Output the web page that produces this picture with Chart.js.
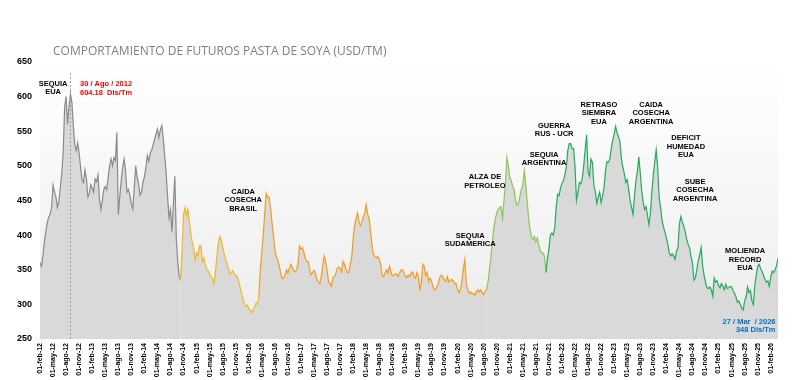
<!DOCTYPE html>
<html lang="es">
<head>
<meta charset="utf-8">
<title>Futuros pasta de soya</title>
<script src="https://cdn.jsdelivr.net/npm/chart.js@4.4.1/dist/chart.umd.min.js"></script>
<style>
  html, body { margin: 0; padding: 0; background: #fff; }
  #contenedor { width: 800px; height: 380px; }
</style>
</head>
<body>
<div id="contenedor"><canvas id="grafico"></canvas></div>
<script>
// precio (USD/TM), un dato cada ~10 dias: dias 1, 11 y 21 de cada mes, desde 01-feb-2012
const precios2012 = [360, 355, 370, 390, 405, 418, 426, 430, 440, 472, 462, 455, 440, 448, 468, 488, 520, 585, 600, 560, 585, 604, 592, 558, 530, 522, 533, 518, 498, 480, 476, 494, 482];
const precios2013 = [455, 460, 473, 468, 462, 481, 477, 487, 452, 437, 450, 466, 470, 466, 483, 500, 510, 500, 512, 508, 548, 430, 455, 478, 498, 510, 493, 462, 466, 458, 445, 438, 468, 500, 484, 474];
const precios2014 = [458, 462, 476, 484, 497, 515, 507, 518, 523, 530, 538, 546, 553, 541, 552, 558, 540, 515, 490, 455, 425, 437, 405, 445, 485, 395, 362, 340, 335, 378, 430, 440, 428, 437, 420, 402];
const precios2015 = [390, 381, 364, 374, 370, 385, 385, 362, 367, 357, 351, 348, 344, 340, 336, 330, 347, 369, 388, 398, 393, 383, 373, 366, 358, 352, 343, 346, 349, 344, 342, 340, 334, 325, 316, 308];
const precios2016 = [301, 297, 299, 294, 292, 288, 291, 296, 302, 300, 314, 352, 376, 400, 432, 460, 455, 455, 440, 418, 400, 379, 369, 364, 356, 346, 337, 338, 342, 350, 345, 352, 358, 354, 348, 347];
const precios2017 = [350, 360, 384, 380, 382, 375, 366, 362, 362, 350, 343, 346, 349, 344, 336, 332, 330, 340, 356, 370, 362, 350, 333, 330, 326, 338, 340, 344, 352, 354, 352, 347, 362, 358, 351, 346];
const precios2018 = [346, 358, 369, 395, 414, 424, 432, 420, 414, 418, 427, 431, 444, 430, 424, 405, 385, 372, 369, 367, 369, 365, 358, 342, 340, 345, 350, 345, 355, 348, 341, 342, 344, 344, 340, 345];
const precios2019 = [350, 350, 346, 340, 339, 342, 340, 345, 347, 340, 338, 346, 340, 322, 330, 358, 355, 342, 346, 333, 338, 334, 326, 321, 322, 326, 333, 340, 342, 339, 335, 333, 340, 332, 334, 336];
const precios2020 = [334, 330, 330, 322, 317, 322, 334, 352, 365, 330, 321, 316, 318, 315, 316, 313, 318, 321, 318, 321, 317, 314, 318, 322, 332, 350, 368, 390, 410, 423, 432, 437, 440, 441, 424, 450];
const precios2021 = [475, 512, 500, 483, 479, 470, 466, 450, 443, 446, 456, 466, 472, 493, 474, 448, 425, 408, 397, 394, 398, 390, 396, 386, 378, 374, 374, 369, 346, 366, 380, 400, 403, 400, 410, 440];
const precios2022 = [459, 457, 468, 475, 478, 487, 498, 522, 532, 532, 525, 525, 500, 450, 462, 476, 474, 482, 500, 523, 545, 492, 485, 510, 505, 472, 463, 446, 455, 462, 447, 456, 468, 492, 506, 505];
const precios2023 = [510, 525, 537, 546, 557, 548, 542, 535, 510, 498, 489, 476, 480, 466, 450, 440, 430, 456, 478, 492, 513, 490, 464, 448, 437, 441, 428, 415, 432, 462, 487, 506, 523, 498, 455, 440];
const precios2024 = [422, 412, 405, 396, 387, 374, 370, 373, 370, 365, 377, 382, 416, 427, 419, 413, 405, 394, 387, 382, 369, 360, 335, 338, 350, 363, 372, 382, 356, 342, 332, 324, 323, 325, 321, 312];
const precios2025 = [338, 332, 334, 327, 324, 330, 326, 321, 329, 323, 324, 326, 325, 320, 316, 311, 303, 305, 300, 294, 292, 305, 311, 325, 317, 320, 305, 300, 327, 342, 355, 358, 352, 347, 342, 336];
const precios2026 = [332, 334, 326, 339, 348, 346, 350, 356, 366];

const meses = ['ene', 'feb', 'mar', 'abr', 'may', 'jun', 'jul', 'ago', 'sep', 'oct', 'nov', 'dic'];
const valoresY = [250, 300, 350, 400, 450, 500, 550, 600, 650];

// tramos de color de la linea (indice del dato donde empieza cada tramo)
const tramos = [
  { desde: 0, color: '#8a8a8a' },
  { desde: 97, color: '#f2b824' },
  { desde: 151, color: '#f39c1e' },
  { desde: 308, color: '#8dc652' },
  { desde: 349, color: '#22ac5c' }
];

// notas sobre el grafico: x en meses desde feb-2012, y en USD/TM
const notas = [
  { x: 3.0, y: 619, lineas: ['SEQUIA', 'EUA'] },
  { x: 46.7, y: 463, lineas: ['CAIDA', 'COSECHA', 'BRASIL'] },
  { x: 102.3, y: 484, lineas: ['ALZA DE', 'PETROLEO'] },
  { x: 98.9, y: 399, lineas: ['SEQUIA', 'SUDAMERICA'] },
  { x: 115.9, y: 516, lineas: ['SEQUIA', 'ARGENTINA'] },
  { x: 118.2, y: 558, lineas: ['GUERRA', 'RUS - UCR'] },
  { x: 128.5, y: 588, lineas: ['RETRASO', 'SIEMBRA', 'EUA'] },
  { x: 140.5, y: 588, lineas: ['CAIDA', 'COSECHA', 'ARGENTINA'] },
  { x: 148.5, y: 540, lineas: ['DEFICIT', 'HUMEDAD', 'EUA'] },
  { x: 150.6, y: 477, lineas: ['SUBE', 'COSECHA', 'ARGENTINA'] },
  { x: 162.1, y: 377, lineas: ['MOLIENDA', 'RECORD', 'EUA'] }
];

const precios = [].concat(precios2012, precios2013, precios2014, precios2015, precios2016,
  precios2017, precios2018, precios2019, precios2020, precios2021, precios2022,
  precios2023, precios2024, precios2025, precios2026);

const puntos = precios.map((p, i) => ({ x: i / 3, y: p }));

function colorTramo(i) {
  let c = tramos[0].color;
  tramos.forEach(t => { if (i >= t.desde) c = t.color; });
  return c;
}

function etiquetaMes(v) {
  const m = Math.round(v);
  if (Math.abs(v - m) > 0.01) return '';
  const mes = (1 + m) % 12;
  const anio = 2012 + Math.floor((1 + m) / 12);
  return '01-' + meses[mes] + '-' + String(anio).slice(2);
}

const fuenteNotas = 'bold 7.5px "Liberation Sans", Arial, sans-serif';

const decorado = {
  id: 'decorado',
  beforeDraw(chart) {
    const { ctx, chartArea: a } = chart;
    const g = ctx.createLinearGradient(0, a.top, 0, a.bottom);
    g.addColorStop(0, '#ffffff');
    g.addColorStop(1, '#ececec');
    ctx.save();
    ctx.fillStyle = g;
    ctx.fillRect(a.left, a.top, a.right - a.left, a.bottom - a.top);
    ctx.restore();
  },
  afterDatasetsDraw(chart) {
    const { ctx, scales: { x, y } } = chart;
    // 30 / ago / 2012
    const px = Math.round(x.getPixelForValue(6.97)) + 0.5;
    ctx.save();
    ctx.strokeStyle = '#9a9a9a';
    ctx.lineWidth = 1;
    ctx.setLineDash([2, 2]);
    ctx.beginPath();
    ctx.moveTo(px, y.getPixelForValue(634));
    ctx.lineTo(px, y.getPixelForValue(250));
    ctx.stroke();
    ctx.restore();
  },
  afterDraw(chart) {
    const { ctx, scales: { x, y } } = chart;
    ctx.save();
    ctx.fillStyle = '#7f7f7f';
    ctx.font = '12px "Open Sans", sans-serif';
    ctx.textBaseline = 'middle';
    ctx.textAlign = 'left';
    ctx.fillText('COMPORTAMIENTO DE FUTUROS PASTA DE SOYA (USD/TM)', 53, 52);

    ctx.font = fuenteNotas;
    ctx.fillStyle = '#000';
    ctx.textAlign = 'center';
    notas.forEach(n => {
      const cx = x.getPixelForValue(n.x);
      const cy = y.getPixelForValue(n.y);
      n.lineas.forEach((t, k) => ctx.fillText(t, cx, cy + k * 8.5));
    });

    ctx.fillStyle = '#ff0000';
    ctx.textAlign = 'left';
    let cx = x.getPixelForValue(9.2), cy = y.getPixelForValue(618);
    ctx.fillText('30 / Ago / 2012', cx, cy);
    ctx.fillText('604.18  Dls/Tm', cx, cy + 8.5);

    ctx.fillStyle = '#0070c0';
    ctx.textAlign = 'right';
    cx = x.getPixelForValue(169.1); cy = y.getPixelForValue(275);
    ctx.fillText('27 / Mar  / 2026', cx, cy);
    ctx.fillText('348 Dls/Tm', cx, cy + 8.5);
    ctx.restore();
  }
};

new Chart(document.getElementById('grafico'), {
  type: 'line',
  data: {
    datasets: [{
      data: puntos,
      borderColor: tramos[0].color,
      borderWidth: 1.2,
      pointRadius: 0,
      tension: 0,
      fill: 'start',
      backgroundColor: '#d9d9d9',
      segment: {
        borderColor: c => colorTramo(c.p0DataIndex)
      }
    }]
  },
  options: {
    responsive: true,
    maintainAspectRatio: false,
    animation: false,
    layout: { padding: { top: 62, right: 22, left: 0, bottom: 0 } },
    plugins: {
      legend: { display: false },
      tooltip: { enabled: false }
    },
    scales: {
      x: {
        type: 'linear',
        min: 0,
        max: (precios.length - 1) / 3,
        grid: { display: false, drawTicks: false },
        border: { display: false },
        ticks: {
          stepSize: 3,
          autoSkip: false,
          includeBounds: false,
          minRotation: 90,
          maxRotation: 90,
          padding: 4,
          color: '#000',
          font: { family: '"Liberation Sans", Arial', size: 7, weight: 'bold' },
          callback: v => etiquetaMes(v)
        },
        afterFit: s => { s.height = 41; }
      },
      y: {
        min: valoresY[0],
        max: valoresY[valoresY.length - 1],
        grid: { display: false, drawTicks: false },
        border: { display: false },
        afterBuildTicks: s => { s.ticks = valoresY.map(v => ({ value: v })); },
        ticks: {
          padding: 8,
          color: '#000',
          font: { family: '"Liberation Sans", Arial', size: 9, weight: 'bold' }
        },
        afterFit: s => { s.width = 40; }
      }
    }
  },
  plugins: [decorado]
});
</script>
</body>
</html>
